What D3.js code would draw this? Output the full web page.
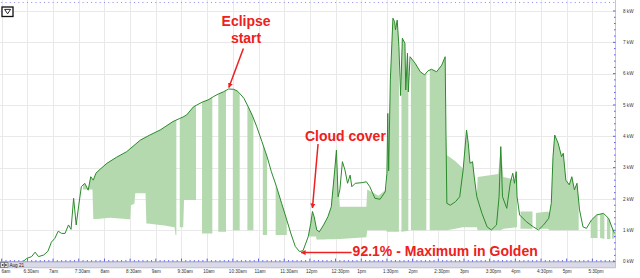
<!DOCTYPE html>
<html>
<head>
<meta charset="utf-8">
<script src="https://cdn.jsdelivr.net/npm/d3@7"></script>
<style>
  body { margin: 0; background: #fff; }
  svg { display: block; font-family: "Liberation Sans", Arial, sans-serif; }
</style>
</head>
<body>
<div id="chart"></div>
<script>
// solar output, Aug 21 (kW) -- the green line
const lineTimes = ["6:00","6:25","6:29","6:35","6:39","6:43","6:49","6:54","6:58","7:02","7:06","7:10","7:14","7:18","7:21","7:24","7:27","7:30","7:33","7:37","7:41","7:44","7:47","7:50","7:55","8:03","8:14","8:26","8:42","8:53","9:05","9:20","9:28","9:32","9:36","9:44","9:48","9:55","10:01","10:07","10:13","10:19","10:25","10:31","10:35","10:38","10:43","10:48","10:53","10:58","11:04","11:10","11:15","11:21","11:27","11:33","11:38","11:43","11:48","11:52","11:58","12:01","12:03","12:05","12:08","12:11","12:16","12:21","12:25","12:29","12:31","12:33","12:35","12:38","12:41","12:44","12:47","12:49","12:53","13:01","13:06","13:10","13:16","13:22","13:28","13:30","13:31","13:32","13:34","13:37","13:39","13:40","13:42","13:44","13:46","13:48","13:51","13:52","13:54","13:55","13:57","14:03","14:09","14:14","14:18","14:22","14:28","14:34","14:38","14:39","14:40","14:44","14:50","14:55","14:59","15:03","15:05","15:07","15:10","15:12","15:15","15:21","15:27","15:32","15:38","15:41","15:43","15:45","15:50","15:54","15:57","15:59","16:01","16:02","16:05","16:13","16:21","16:27","16:33","16:39","16:42","16:44","16:46","16:50","16:54","16:56","16:59","17:03","17:06","17:09","17:12","17:15","17:19","17:23","17:29","17:35","17:43","17:49","17:54","17:56"]
const lineKw = [0,0,0.1,0.16,0.3,0.16,0.21,0.33,0.62,0.74,0.97,0.9,0.9,1.17,1.03,2.02,1.17,1.8,2.39,2.5,2.28,2.71,2.6,2.82,2.95,3.14,3.33,3.51,3.88,4.04,4.2,4.47,4.57,4.62,4.68,4.94,5.0,5.1,5.16,5.26,5.35,5.42,5.51,5.5,5.45,5.37,5.21,4.94,4.65,4.3,3.83,3.35,2.87,2.39,1.86,1.33,0.88,0.48,0.32,0.35,0.79,1.22,1.6,1.43,1.01,0.95,1.17,1.43,1.75,2.92,3.56,2.07,2.29,3.19,2.92,2.5,2.76,2.39,2.5,2.52,2.55,2.39,2.02,1.99,2.23,2.82,4.73,2.9,5.8,7.77,7.66,7.4,7.71,6.86,5.3,7.13,6.97,5.48,6.65,5.42,6.54,6.33,6.06,5.96,6.09,6.14,6.06,6.27,6.54,4.0,1.86,1.8,1.91,2.07,2.92,4.2,3.78,3.14,3.19,2.7,2.07,1.54,1.11,1.01,1.17,2.07,3.67,2.07,1.7,2.5,2.82,2.5,2.87,2.07,1.49,1.27,1.11,1.01,1.17,1.38,1.86,3.35,4.04,3.78,3.35,3.46,2.6,2.45,2.71,2.29,2.5,1.65,1.11,1.06,1.33,1.49,1.54,1.38,1.01,0.9]

// shaded band: [time, low kW, high kW]; high left out = up to the line, low null = no shading
const fillRows = [
  ["7:35",2.3],["7:46",2.3],["7:47",1.35],["8:07",1.4],["8:30",1.35],["8:31",1.8],["8:35",1.85],["8:36",2.18],["8:48",2.18],
  ["8:49",1.22],["9:10",1.15],["9:22",1.1],["9:23",0.85],["9:24",0.85],["9:25",null],
  ["9:28",1.1],["9:32",1.1],["9:33",1.97],["9:47",1.97],["9:48",null],
  ["9:54",0.9],["10:06",0.9],["10:07",null],
  ["10:13",0.95],["10:22",0.95],["10:23",null],
  ["10:30",1.0],["10:38",1.0],["10:39",null],
  ["10:47",1.0],["10:54",1.0],["10:55",null],
  ["11:05",0.85],["11:10",0.85],["11:11",null],
  ["11:20",0.85],["11:33",0.85],["11:34",null],
  ["11:59",0.8],["12:07",0.8],["12:08",0.7],["12:34",0.72],
  ["12:35",0.72,1.75],["13:06",0.78,1.75],["13:07",1.0,2.3],["13:20",1.0,2.1],["13:29",1.0,2.3],
  ["13:30",0.95],["13:44",0.95],["13:45",null],
  ["13:47",0.95],["13:55",0.98],["13:56",null],
  ["13:58",1.0],["14:16",1.0],["14:17",null],
  ["14:20",1.0],["14:38",1.0],["14:39",1.0,4.0],["14:40",1.0,3.4],["14:50",1.05,3.2],["14:58",1.1,3.0],
  ["14:59",1.1],["15:15",1.1],["15:16",1.0,2.7],["15:40",1.0,2.8],["15:43",1.0],["15:46",1.05,2.7],["16:02",1.1,2.6],["16:03",null],
  ["16:06",1.05,1.6],["16:20",1.05,1.6],["16:21",null],
  ["16:24",1.05,1.55],["16:38",1.05,1.6],["16:40",1.0],["17:14",1.0],["17:15",null],
  ["17:28",0.75],["17:36",0.75],["17:37",null],
  ["17:39",0.75],["17:44",0.72],["17:45",null],
  ["17:47",0.72],["17:51",0.72],["17:52",null],
  ["17:53",0.72],["17:56",0.75]
]

const kwTicks = [0, 1, 2, 3, 4, 5, 6, 7, 8]
const kwLabels = ["0 kW", "1 kW", "2 kW", "3 kW", "4 kW", "5 kW", "6 kW", "7 kW", "8 kW"]
const timeLabels = ["6am","6:30am","7am","7:30am","8am","8:30am","9am","9:30am","10am","10:30am","11am","11:30am","12pm","12:30pm","1pm","1:30pm","2pm","2:30pm","3pm","3:30pm","4pm","4:30pm","5pm","5:30pm"]
const dayLabel = "Aug 21"

// callouts anchored on the curve: [time, kW, text lines]
const notes = [
  { t: "10:25", kw: 5.51, lines: ["Eclipse", "start"] },
  { t: "12:03", kw: 1.6, lines: ["Cloud cover"] },
  { t: "11:48", kw: 0.32, lines: ["92.1% - Maximum in Golden"] }
]

const width = 640
const height = 278
const plotRight = 615.5
const plotBottom = 261.6

const parse = d3.timeParse("%H:%M")

const x = d3.scaleTime()
  .domain([parse("5:58"), parse("17:57")])
  .range([0, plotRight])

const y = d3.scaleLinear()
  .domain([0, 8])
  .range([plotBottom, 11])

const lineDates = lineTimes.map(parse)
const lineData = lineDates.map((t, i) => ({ t, kw: lineKw[i] }))
const lineAt = d3.scaleLinear().domain(lineDates).range(lineKw).clamp(true)

// where the band top follows the line, take the line's own points too
const fillData = []
fillRows.forEach((r, i) => {
  const t = parse(r[0])
  fillData.push({ t, lo: r[1], hi: r[2] })
  const next = fillRows[i + 1]
  if (next && r[1] != null && next[1] != null && r[2] == null && next[2] == null) {
    const t1 = parse(next[0])
    const loAt = d3.scaleLinear().domain([t, t1]).range([r[1], next[1]])
    lineDates.filter(d => d > t && d < t1)
      .forEach(d => fillData.push({ t: d, lo: loAt(d) }))
  }
})

const svg = d3.select("#chart").append("svg")
  .attr("width", width)
  .attr("height", height)
  .attr("viewBox", [0, 0, width, height])

// grid
const halfHours = x.ticks(d3.timeMinute.every(30))

svg.append("g")
  .attr("stroke", "#e9e9e9")
  .attr("stroke-width", 1)
  .call(g => g.selectAll("line.v")
    .data(halfHours)
    .join("line")
      .attr("class", "v")
      .attr("x1", d => Math.round(x(d)) + 0.5)
      .attr("x2", d => Math.round(x(d)) + 0.5)
      .attr("y1", 0)
      .attr("y2", plotBottom))
  .call(g => g.selectAll("line.h")
    .data(kwTicks.slice(1))
    .join("line")
      .attr("class", "h")
      .attr("x1", 0)
      .attr("x2", plotRight)
      .attr("y1", d => Math.round(y(d)) + 0.5)
      .attr("y2", d => Math.round(y(d)) + 0.5))

// shaded band
svg.append("path")
  .datum(fillData)
  .attr("fill", "#b5d9ae")
  .attr("d", d3.area()
    .defined(d => d.lo != null)
    .x(d => x(d.t))
    .y0(d => y(d.lo))
    .y1(d => y(d.hi != null ? d.hi : lineAt(d.t))))

// output line
svg.append("path")
  .datum(lineData)
  .attr("fill", "none")
  .attr("stroke", "#2b8a2b")
  .attr("stroke-width", 1)
  .attr("stroke-linejoin", "round")
  .attr("d", d3.line()
    .x(d => x(d.t))
    .y(d => y(d.kw)))

// top dotted rule
const fiveMin = x.ticks(d3.timeMinute.every(5))
svg.append("g")
  .attr("fill", "#8a8af0")
  .selectAll("rect")
  .data(fiveMin)
  .join("rect")
    .attr("x", d => x(d) - 0.5)
    .attr("y", 2)
    .attr("width", 1)
    .attr("height", 1)

// bottom axis rule with ticks
svg.append("line")
  .attr("x1", 0).attr("x2", plotRight)
  .attr("y1", plotBottom).attr("y2", plotBottom)
  .attr("stroke", "#b8b8d8")

svg.append("g")
  .attr("fill", "#5b5bef")
  .selectAll("rect")
  .data(fiveMin)
  .join("rect")
    .attr("x", d => x(d) - 0.5)
    .attr("y", d => d.getMinutes() % 30 === 0 ? plotBottom - 3 : plotBottom - 1.5)
    .attr("width", 1)
    .attr("height", d => d.getMinutes() % 30 === 0 ? 3 : 1.5)

// right axis rule with ticks
svg.append("line")
  .attr("x1", plotRight).attr("x2", plotRight)
  .attr("y1", 0).attr("y2", plotBottom)
  .attr("stroke", "#c4c4d4")

svg.append("g")
  .attr("fill", "#5b5bef")
  .selectAll("rect")
  .data(d3.range(0, 40.5, 1).map(i => i / 5))
  .join("rect")
    .attr("x", d => Number.isInteger(d) ? plotRight - 2.5 : plotRight - 1.5)
    .attr("y", d => y(d) - 0.5)
    .attr("width", d => Number.isInteger(d) ? 2.5 : 1.5)
    .attr("height", 1)

svg.append("g")
  .attr("font-size", 4.6)
  .attr("fill", "#333")
  .selectAll("text")
  .data(kwTicks)
  .join("text")
    .attr("x", 623)
    .attr("y", d => y(d))
    .attr("dy", "0.35em")
    .text((d, i) => kwLabels[i])

// date strip under the plot
const strip = svg.append("g")
strip.append("rect")
  .attr("x", 0).attr("y", plotBottom + 0.5)
  .attr("width", plotRight).attr("height", 5.8)
  .attr("fill", "#d9d9e8")
  .attr("stroke", "#a9a9c4")
  .attr("stroke-width", 0.6)
;[[0.6, "left"], [4.4, "right"]].forEach(([bx, dir]) => {
  strip.append("rect")
    .attr("x", bx).attr("y", plotBottom + 1.2)
    .attr("width", 3.6).attr("height", 4.4)
    .attr("fill", "#f4f4f4")
    .attr("stroke", "#333")
    .attr("stroke-width", 0.5)
  const cx = bx + 1.8
  const cy = plotBottom + 3.4
  strip.append("path")
    .attr("d", dir === "left"
      ? `M${cx + 0.9},${cy - 1.3}L${cx - 1},${cy}L${cx + 0.9},${cy + 1.3}Z`
      : `M${cx - 0.9},${cy - 1.3}L${cx + 1},${cy}L${cx - 0.9},${cy + 1.3}Z`)
    .attr("fill", "#111")
})
strip.append("text")
  .attr("x", 9.5)
  .attr("y", plotBottom + 4.9)
  .attr("font-size", 4.6)
  .attr("fill", "#222")
  .text(dayLabel)

// time labels
svg.append("g")
  .attr("font-size", 4.6)
  .attr("fill", "#333")
  .selectAll("text")
  .data(halfHours)
  .join("text")
    .attr("x", d => Math.max(1.5, x(d) - 4))
    .attr("y", 272.6)
    .text((d, i) => timeLabels[i])

// menu button top left
svg.append("rect")
  .attr("x", 2).attr("y", 7)
  .attr("width", 11).attr("height", 9.5)
  .attr("fill", "#fff")
  .attr("stroke", "#111")
  .attr("stroke-width", 1.3)
svg.append("path")
  .attr("d", "M4.6,9.4L10.6,9.4L7.6,13.8Z")
  .attr("fill", "none")
  .attr("stroke", "#111")
  .attr("stroke-width", 0.9)

// callouts
const red = "#ee2020"
svg.append("defs").append("marker")
  .attr("id", "head")
  .attr("viewBox", "0 0 10 10")
  .attr("refX", 9).attr("refY", 5)
  .attr("markerWidth", 5).attr("markerHeight", 5)
  .attr("markerUnits", "userSpaceOnUse")
  .attr("orient", "auto")
  .append("path")
    .attr("d", "M0,0L10,5L0,10Z")
    .attr("fill", red)

const callouts = svg.append("g")
  .attr("font-size", 14)
  .attr("font-weight", "bold")
  .attr("fill", red)

notes.forEach((n, i) => {
  const px = x(parse(n.t))
  const py = y(n.kw)
  let text, from, to
  if (i === 0) {
    text = [[px + 17.5, py - 63, "middle"], [px + 17.5, py - 46, "middle"]]
    from = [px + 14.8, py - 40.5]
    to = [px + 0.3, py - 1.5]
  } else if (i === 1) {
    text = [[px - 7.5, py - 70, "start"]]
    from = [px + 5.6, py - 67.5]
    to = [px, py - 3.5]
  } else {
    text = [[px + 53, py + 4.5, "start"]]
    from = [px + 52, py + 1]
    to = [px + 1.5, py + 1]
  }
  text.forEach(([tx, ty, anchor], k) => {
    callouts.append("text")
      .attr("x", tx).attr("y", ty)
      .attr("text-anchor", anchor)
      .text(n.lines[k])
  })
  callouts.append("line")
    .attr("x1", from[0]).attr("y1", from[1])
    .attr("x2", to[0]).attr("y2", to[1])
    .attr("stroke", red)
    .attr("stroke-width", 1.5)
    .attr("marker-end", "url(#head)")
})
</script>
</body>
</html>
